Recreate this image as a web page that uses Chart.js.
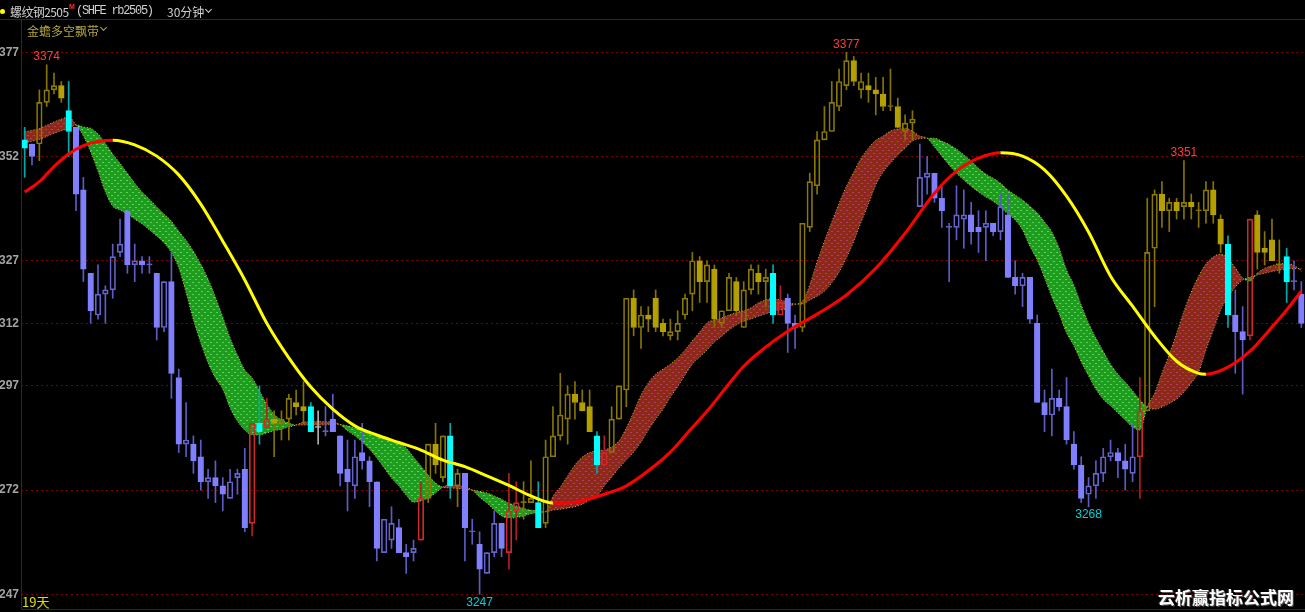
<!DOCTYPE html>
<html>
<head>
<meta charset="utf-8">
<script src="https://cdn.jsdelivr.net/npm/chart.js@4.4.1/dist/chart.umd.min.js"></script>
<style>
  html, body { margin: 0; padding: 0; background: #000; }
  #wrap { position: relative; width: 1305px; height: 612px; overflow: hidden; background: #000; }
  #wrap canvas { position: absolute; left: 0; top: 0; }
  .t { position: absolute; white-space: nowrap; line-height: 1; }
  .chev { position: absolute; width: 4px; height: 4px; border-right: 1px solid; border-bottom: 1px solid; transform: rotate(45deg); }
</style>
</head>
<body>
<div id="wrap">
  <canvas id="kline" width="1305" height="612"></canvas>

  <div class="t" style="left:0px;top:9px;width:5px;height:5px;border-radius:50%;background:#ffff00"></div>
  <div class="t" style="left:10px;top:3px;font:12px 'Noto Sans CJK SC',sans-serif;letter-spacing:-0.6px;color:#d0d0d0">螺纹钢2505</div>
  <div class="t" style="left:69px;top:3px;font:bold 7px 'Liberation Sans',sans-serif;color:#ff3030">M</div>
  <div class="t" style="left:76px;top:4px;font:12px 'Liberation Mono',monospace;letter-spacing:-1.3px;color:#d0d0d0">(SHFE rb2505)</div>
  <div class="t" style="left:167px;top:3px;font:12px 'Noto Sans CJK SC',sans-serif;color:#d0d0d0">30分钟</div>
  <div class="chev" style="left:206px;top:7px;color:#d0d0d0"></div>

  <div class="t" style="left:27px;top:22px;font:12px 'Noto Sans CJK SC',sans-serif;color:#b4a63c">金蟾多空飘带</div>
  <div class="chev" style="left:101px;top:25px;color:#b4a63c"></div>

  <div class="t" style="left:22px;top:592px;font:13px 'Noto Sans CJK SC',sans-serif;color:#e0e000">19天</div>
  <div class="t" style="left:1158px;top:584px;font:bold 17px 'Noto Sans CJK SC',sans-serif;color:#ffffff;text-shadow:1px 1px 0 #555,-1px 0 0 #333">云析赢指标公式网</div>
</div>

<script>
// 螺纹钢2505 30分钟 K线 + 金蟾多空飘带

var yTicks = [3247, 3272, 3297, 3312, 3327, 3352, 3377];

var open = [
  3356, 3355, 3355, 3365, 3368, 3369, 3363, 3359, 3344, 3324,
  3314, 3319, 3320, 3329, 3339, 3326, 3327, 3326, 3324, 3311,
  3322, 3299, 3283, 3283, 3280, 3274, 3275, 3273, 3270, 3275,
  3277, 3264, 3288, 3287, 3289, 3288, 3289, 3293, 3292, 3292,
  3287, 3286, 3289, 3285, 3277, 3273, 3281, 3279, 3274, 3257,
  3260, 3263, 3257, 3257, 3260, 3270, 3283, 3275, 3285, 3273,
  3276, 3262, 3259, 3252, 3257, 3264, 3257, 3267, 3269, 3269,
  3269, 3264, 3280, 3285, 3289, 3295, 3293, 3292, 3285, 3278,
  3281, 3289, 3296, 3318, 3311, 3314, 3318, 3312, 3309, 3310,
  3314, 3319, 3327, 3322, 3325, 3312, 3315, 3322, 3311, 3320,
  3324, 3322, 3324, 3314, 3318, 3312, 3311, 3335, 3345, 3356,
  3358, 3364, 3369, 3375, 3368, 3369, 3368, 3367, 3364, 3364,
  3358, 3360, 3340, 3347, 3348, 3342, 3335, 3335, 3337, 3338,
  3335, 3335, 3336, 3334, 3338, 3323, 3321, 3323, 3312, 3293,
  3290, 3294, 3292, 3283, 3278, 3271, 3273, 3276, 3280, 3281,
  3279, 3276, 3280, 3291, 3330, 3343, 3339, 3341, 3340, 3341,
  3339, 3339, 3344, 3337, 3331, 3314, 3310, 3309, 3338, 3330,
  3332, 3326, 3328, 3322, 3319
];
var high = [
  3359, 3355, 3368, 3374, 3372, 3370, 3370, 3359, 3347, 3324,
  3326, 3321, 3331, 3337, 3339, 3331, 3328, 3328, 3324, 3322,
  3329, 3301, 3293, 3285, 3284, 3277, 3279, 3275, 3277, 3277,
  3282, 3288, 3297, 3294, 3291, 3291, 3295, 3296, 3298, 3293,
  3291, 3292, 3295, 3285, 3284, 3284, 3288, 3280, 3274, 3265,
  3268, 3265, 3259, 3260, 3274, 3283, 3288, 3285, 3288, 3277,
  3276, 3265, 3262, 3257, 3267, 3264, 3276, 3274, 3274, 3279,
  3274, 3284, 3292, 3300, 3297, 3298, 3296, 3296, 3286, 3285,
  3292, 3297, 3318, 3320, 3316, 3316, 3320, 3313, 3313, 3315,
  3319, 3329, 3328, 3327, 3326, 3315, 3324, 3323, 3322, 3326,
  3326, 3325, 3326, 3321, 3319, 3314, 3336, 3348, 3358, 3364,
  3370, 3373, 3377, 3376, 3372, 3372, 3371, 3371, 3373, 3366,
  3362, 3363, 3355, 3352, 3348, 3345, 3336, 3345, 3344, 3341,
  3339, 3339, 3336, 3343, 3343, 3327, 3324, 3323, 3314, 3296,
  3301, 3296, 3299, 3286, 3280, 3275, 3279, 3282, 3284, 3282,
  3283, 3288, 3299, 3342, 3344, 3346, 3342, 3342, 3351, 3343,
  3341, 3346, 3346, 3338, 3333, 3320, 3316, 3337, 3339, 3334,
  3337, 3332, 3330, 3327, 3322
];
var low = [
  3347, 3350, 3351, 3364, 3367, 3365, 3352, 3339, 3322, 3312,
  3313, 3312, 3318, 3328, 3324, 3322, 3324, 3324, 3308, 3310,
  3294, 3281, 3280, 3276, 3272, 3270, 3269, 3267, 3270, 3271,
  3262, 3261, 3283, 3287, 3280, 3284, 3284, 3290, 3288, 3286,
  3283, 3285, 3286, 3273, 3267, 3270, 3277, 3268, 3255, 3257,
  3258, 3257, 3252, 3255, 3260, 3269, 3276, 3274, 3270, 3268,
  3255, 3259, 3247, 3252, 3256, 3256, 3253, 3260, 3265, 3269,
  3263, 3263, 3280, 3284, 3283, 3289, 3291, 3286, 3276, 3278,
  3281, 3289, 3292, 3309, 3306, 3310, 3310, 3309, 3308, 3308,
  3313, 3315, 3317, 3317, 3311, 3311, 3315, 3314, 3311, 3319,
  3319, 3316, 3312, 3314, 3305, 3306, 3310, 3334, 3343, 3356,
  3358, 3363, 3368, 3369, 3366, 3365, 3362, 3363, 3363, 3359,
  3356, 3356, 3340, 3343, 3341, 3335, 3322, 3332, 3330, 3331,
  3329, 3327, 3333, 3332, 3323, 3319, 3316, 3312, 3293, 3286,
  3285, 3291, 3283, 3277, 3269, 3268, 3270, 3274, 3279, 3275,
  3272, 3274, 3270, 3291, 3316, 3335, 3334, 3337, 3337, 3337,
  3335, 3336, 3336, 3329, 3311, 3300, 3295, 3308, 3325, 3326,
  3327, 3324, 3317, 3320, 3311
];
var close = [
  3354, 3352, 3365, 3368, 3369, 3366, 3358, 3343, 3325, 3315,
  3319, 3320, 3328, 3331, 3326, 3327, 3326, 3326, 3311, 3322,
  3300, 3283, 3284, 3279, 3274, 3275, 3273, 3271, 3274, 3276,
  3263, 3288, 3286, 3289, 3288, 3289, 3294, 3292, 3291, 3286,
  3287, 3286, 3286, 3276, 3274, 3280, 3279, 3274, 3258, 3265,
  3264, 3257, 3256, 3258, 3270, 3283, 3278, 3285, 3273, 3276,
  3263, 3262, 3253, 3257, 3264, 3258, 3267, 3269, 3269, 3270,
  3263, 3280, 3285, 3290, 3295, 3293, 3291, 3286, 3278, 3281,
  3289, 3297, 3318, 3311, 3314, 3313, 3311, 3310, 3310, 3312,
  3318, 3327, 3322, 3326, 3313, 3315, 3323, 3315, 3320, 3325,
  3322, 3323, 3314, 3317, 3312, 3311, 3336, 3346, 3356, 3358,
  3365, 3370, 3375, 3370, 3370, 3368, 3367, 3364, 3364, 3359,
  3360, 3361, 3347, 3348, 3342, 3339, 3335, 3338, 3338, 3334,
  3334, 3336, 3334, 3340, 3323, 3321, 3323, 3313, 3293, 3290,
  3294, 3292, 3284, 3278, 3270, 3273, 3276, 3280, 3281, 3279,
  3277, 3280, 3291, 3329, 3343, 3339, 3341, 3339, 3341, 3340,
  3339, 3344, 3338, 3331, 3314, 3310, 3308, 3337, 3329, 3329,
  3327, 3326, 3322, 3322, 3312
];

// Y 多头(黄)  P 空头(紫)  C 信号(青)  R 转折(红)  W 十字(白)
var candleTone = (
  'CPYYYYCPPP' + 'PPPPPPPPPP' + 'PPPPPPPPPP' + 'PRCRYYYYYC' + 'WPPPPPPPPP' +
  'PPPPRYYYCY' + 'PPPPPPRRYY' + 'CYYYYYYYCR' + 'YYYYYYYYYY' + 'YYYYYYYYYY' +
  'YYCRPPYYYY' + 'YYYYYYYYYY' + 'YYPPPPPPPP' + 'PPPPPPPPPP' + 'PPPPPPPPPP' +
  'PPRYYYYYYY' + 'YYYYCPPRYY' + 'YYCPP'
).split('');

var peakIdx = [3, 112, 158];
var troughIdx = [62, 145];

// 飘带: 快线 / 慢线
var fastLine = [
  3357.9, 3358.3, 3358.7, 3359.5, 3360.3, 3361.0, 3361.5, 3359.6, 3356.9, 3353.1,
  3348.5, 3343.5, 3340.1, 3339.2, 3338.2, 3337.0, 3335.8, 3334.4, 3332.9, 3331.3,
  3328.9, 3325.3, 3319.3, 3312.8, 3307.3, 3302.5, 3298.9, 3296.2, 3291.7, 3288.5,
  3286.4, 3285.2, 3285.2, 3285.7, 3286.2, 3286.6, 3287.1, 3287.6, 3288.3, 3288.4,
  3288.5, 3288.4, 3288.3, 3287.7, 3286.2, 3285.0, 3283.5, 3281.8, 3279.7, 3277.3,
  3274.9, 3273.0, 3270.8, 3269.1, 3269.4, 3270.1, 3271.3, 3272.7, 3273.2, 3273.1,
  3272.7, 3272.0, 3270.3, 3268.9, 3267.2, 3265.8, 3265.3, 3265.4, 3265.8, 3266.3,
  3266.6, 3266.8, 3270.5, 3272.7, 3275.4, 3278.0, 3279.9, 3281.0, 3281.4, 3281.6,
  3282.3, 3283.8, 3286.9, 3290.7, 3294.8, 3297.7, 3299.8, 3301.0, 3302.2, 3303.7,
  3305.6, 3307.8, 3309.9, 3312.1, 3312.8, 3313.3, 3314.0, 3314.6, 3315.0, 3315.7,
  3316.9, 3317.6, 3318.0, 3317.6, 3317.1, 3316.6, 3317.3, 3321.2, 3326.7, 3331.7,
  3336.3, 3340.8, 3344.9, 3348.3, 3351.6, 3354.0, 3355.9, 3356.9, 3358.1, 3358.6,
  3358.8, 3358.1, 3356.9, 3356.4, 3354.3, 3352.1, 3349.9, 3348.0, 3346.4, 3344.9,
  3343.5, 3342.3, 3341.3, 3339.9, 3338.2, 3336.8, 3334.4, 3330.5, 3327.2, 3322.9,
  3318.3, 3314.2, 3309.7, 3306.6, 3302.7, 3299.4, 3296.2, 3293.8, 3292.2, 3290.5,
  3288.8, 3287.1, 3286.4, 3292.0, 3295.2, 3300.0, 3304.6, 3309.6, 3314.9, 3319.5,
  3323.3, 3326.2, 3327.9, 3328.6, 3327.6, 3325.3, 3322.9, 3322.1, 3324.0, 3325.2,
  3325.8, 3326.3, 3326.3, 3325.9, 3324.5
];
var slowLine = [
  3355.2, 3355.7, 3356.1, 3356.8, 3357.6, 3358.2, 3358.7, 3359.6, 3359.1, 3358.8,
  3357.4, 3355.2, 3352.6, 3350.4, 3348.0, 3345.6, 3343.5, 3341.8, 3339.9, 3338.2,
  3336.5, 3334.1, 3331.9, 3329.3, 3326.2, 3322.6, 3318.3, 3313.5, 3308.5, 3304.4,
  3300.8, 3298.9, 3295.8, 3292.6, 3290.2, 3288.8, 3288.1, 3287.6, 3287.6, 3287.6,
  3287.6, 3287.7, 3287.8, 3287.7, 3287.4, 3286.9, 3286.4, 3286.0, 3285.4, 3284.7,
  3284.0, 3283.3, 3282.1, 3279.9, 3277.8, 3275.6, 3273.7, 3272.7, 3272.5, 3272.4,
  3272.2, 3272.0, 3271.7, 3271.3, 3270.6, 3269.8, 3268.9, 3268.2, 3267.6, 3267.2,
  3267.0, 3266.8, 3267.2, 3267.4, 3267.7, 3268.0, 3268.6, 3269.6, 3270.6, 3273.0,
  3275.1, 3277.3, 3279.2, 3281.1, 3283.5, 3286.4, 3289.0, 3291.4, 3294.3, 3296.8,
  3299.6, 3302.2, 3303.9, 3305.6, 3307.5, 3308.9, 3310.4, 3311.6, 3312.5, 3313.1,
  3313.7, 3314.3, 3314.8, 3315.2, 3315.6, 3316.6, 3316.6, 3317.6, 3318.5, 3319.7,
  3321.7, 3324.3, 3327.7, 3331.7, 3336.3, 3340.6, 3345.2, 3348.3, 3350.4, 3352.4,
  3354.0, 3355.7, 3356.3, 3356.4, 3356.4, 3355.7, 3354.9, 3353.8, 3352.4, 3350.9,
  3349.2, 3347.8, 3346.8, 3345.6, 3344.0, 3342.8, 3341.6, 3340.1, 3338.5, 3336.3,
  3333.9, 3330.0, 3324.8, 3321.2, 3316.4, 3312.1, 3308.5, 3305.3, 3302.2, 3299.8,
  3297.9, 3295.8, 3293.6, 3292.0, 3291.4, 3291.9, 3292.8, 3293.8, 3295.5, 3297.7,
  3300.3, 3305.6, 3310.4, 3315.2, 3318.3, 3320.7, 3322.4, 3323.1, 3323.6, 3324.0,
  3324.4, 3324.8, 3325.0, 3325.1, 3325.2
];

// 趋势线 (下行黄, 上行红)
var maX = [0, 2, 4, 6, 8, 10, 12, 15, 18, 21, 24, 27, 30, 33, 36, 39, 42, 45, 48, 51,
  54, 57, 60, 63, 66, 69, 72, 75, 79, 82, 86, 88, 91, 93, 96, 98, 101, 104, 108, 112,
  116, 120, 124, 127, 130, 133, 136, 139, 142, 145, 148, 151, 154, 157, 160, 161, 164, 167, 170, 172, 174];
var maLine = [3343.5, 3346.0, 3349.6, 3352.6, 3354.6, 3355.6, 3355.9, 3354.8, 3352.1, 3347.6,
  3340.6, 3331.7, 3322.4, 3312.0, 3303.7, 3296.7, 3291.4, 3287.4, 3285.2, 3283.4,
  3281.6, 3279.2, 3277.6, 3275.4, 3273.1, 3270.6, 3268.9, 3269.1, 3271.0, 3273.0,
  3278.0, 3281.1, 3287.0, 3290.9, 3297.5, 3301.7, 3306.3, 3310.1, 3314.2, 3318.8,
  3325.2, 3333.6, 3343.2, 3348.5, 3351.6, 3352.9, 3352.1, 3348.8, 3342.5, 3333.9,
  3323.3, 3316.1, 3308.9, 3302.9, 3300.0, 3299.8, 3301.5, 3305.3, 3311.1, 3315.2, 3319.7];

var tones = {
  Y: { up: '#8a7a00', down: '#b4a000', wick: '#857400' },
  P: { up: '#6464cc', down: '#8080ff', wick: '#5c5cc4' },
  C: { up: '#00ffff', down: '#00ffff', wick: '#00a8a8', solid: true },
  R: { up: '#d02828', down: '#d02828', wick: '#b02020' },
  W: { up: '#c8c8c8', down: '#c8c8c8', wick: '#b0b0b0' }
};

function bodyFill(i) {
  var t = tones[candleTone[i]];
  if (t.solid || close[i] < open[i]) return t.down;
  if (close[i] === open[i]) return t.up;
  return 'rgba(0,0,0,0)';
}
function bodyEdge(i) {
  var t = tones[candleTone[i]];
  return close[i] < open[i] ? t.down : t.up;
}
function wickColor(i) {
  return tones[candleTone[i]].wick;
}

var ctx = document.getElementById('kline').getContext('2d');

// dotted texture for the ribbon
function ribbonPattern(base, dot) {
  var c = document.createElement('canvas');
  c.width = 6; c.height = 6;
  var g = c.getContext('2d');
  g.fillStyle = base; g.fillRect(0, 0, 6, 6);
  g.fillStyle = dot;
  g.fillRect(0, 0, 2, 1); g.fillRect(3, 3, 2, 1);
  return ctx.createPattern(c, 'repeat');
}
var bearFill = ribbonPattern('#1f9c1f', '#50d850');
var bullFill = ribbonPattern('#8c2a1a', '#b83868');

function bandColor(c) {
  var a = c.p0DataIndex, b = c.p1DataIndex;
  var d = fastLine[a] + fastLine[b] - slowLine[a] - slowLine[b];
  return d >= 0 ? bullFill : bearFill;
}

var idx = close.map(function (c, i) { return i; });

var extremeLabels = {
  id: 'extremeLabels',
  afterDatasetsDraw: function (chart) {
    var xs = chart.scales.x, ys = chart.scales.y, g = chart.ctx;
    g.save();
    g.font = '12px "Liberation Sans", Arial, sans-serif';
    g.textAlign = 'center';
    g.textBaseline = 'bottom';
    g.fillStyle = '#ff3c3c';
    peakIdx.forEach(function (i) {
      g.fillText(String(high[i]), xs.getPixelForValue(i), ys.getPixelForValue(high[i]) - 2);
    });
    g.textBaseline = 'top';
    g.fillStyle = '#00d0d8';
    troughIdx.forEach(function (i) {
      g.fillText(String(low[i]), xs.getPixelForValue(i), ys.getPixelForValue(low[i]) + 2);
    });
    g.restore();
  }
};

var frameLines = {
  id: 'frameLines',
  afterDraw: function (chart) {
    var g = chart.ctx;
    g.save();
    g.strokeStyle = '#8c0000';
    g.lineWidth = 1;
    g.beginPath();
    g.moveTo(0, 19.5); g.lineTo(1305, 19.5);
    g.moveTo(21.5, 19.5); g.lineTo(21.5, 609.5);
    g.moveTo(21.5, 609.5); g.lineTo(1305, 609.5);
    g.stroke();
    g.restore();
  }
};

var klineChart = new Chart(ctx, {
  type: 'bar',
  data: {
    datasets: [
      {
        type: 'line',
        label: '趋势线',
        data: maX.map(function (x, k) { return { x: x, y: maLine[k] }; }),
        borderWidth: 3,
        borderColor: '#ff0000',
        segment: {
          borderColor: function (c) { return c.p1.parsed.y < c.p0.parsed.y ? '#ffff00' : '#ff0000'; }
        },
        pointRadius: 0,
        cubicInterpolationMode: 'monotone',
        fill: false,
        order: 0
      },
      {
        label: '实体',
        data: idx.map(function (i) { return { x: i, y: [open[i], close[i]] }; }),
        backgroundColor: idx.map(bodyFill),
        borderColor: idx.map(bodyEdge),
        borderWidth: 1,
        borderSkipped: false,
        grouped: false,
        barThickness: 6,
        maxBarThickness: 5.6,
        minBarLength: 1,
        order: 1
      },
      {
        label: '上影',
        data: idx.map(function (i) { return { x: i, y: [Math.max(open[i], close[i]), high[i]] }; }),
        backgroundColor: idx.map(wickColor),
        borderWidth: 0,
        grouped: false,
        barThickness: 1,
        maxBarThickness: 1,
        order: 2
      },
      {
        label: '下影',
        data: idx.map(function (i) { return { x: i, y: [low[i], Math.min(open[i], close[i])] }; }),
        backgroundColor: idx.map(wickColor),
        borderWidth: 0,
        grouped: false,
        barThickness: 1,
        maxBarThickness: 1,
        order: 3
      },
      {
        type: 'line',
        label: '慢线',
        data: idx.map(function (i) { return { x: i, y: slowLine[i] }; }),
        borderColor: '#c4bc30',
        borderWidth: 1,
        borderDash: [1, 2],
        pointRadius: 0,
        cubicInterpolationMode: 'monotone',
        fill: false,
        order: 5
      },
      {
        type: 'line',
        label: '快线',
        data: idx.map(function (i) { return { x: i, y: fastLine[i] }; }),
        borderColor: '#c4bc30',
        borderWidth: 1,
        borderDash: [1, 2],
        pointRadius: 0,
        cubicInterpolationMode: 'monotone',
        backgroundColor: bearFill,
        segment: { backgroundColor: bandColor },
        fill: 4,
        order: 6
      }
    ]
  },
  options: {
    responsive: false,
    animation: false,
    devicePixelRatio: 1,
    events: [],
    layout: { padding: { top: 20, bottom: 3, left: 0, right: 0 } },
    plugins: {
      legend: { display: false },
      tooltip: { enabled: false },
      filler: { propagate: false }
    },
    scales: {
      x: {
        type: 'linear',
        min: -0.5,
        max: 174.5,
        offset: false,
        display: false
      },
      y: {
        min: 3243.47,
        max: 3384.75,
        afterFit: function (scale) {
          scale.width = 21;
          scale.paddingTop = 0;
          scale.paddingBottom = 0;
        },
        afterBuildTicks: function (scale) {
          scale.ticks = yTicks.map(function (v) { return { value: v }; });
        },
        ticks: {
          color: '#a4a4a4',
          padding: 2,
          autoSkip: false,
          font: { family: '"Liberation Sans", Arial, sans-serif', size: 12, weight: 'bold' },
          callback: function (v) { return String(v); }
        },
        grid: { color: '#800000', lineWidth: 1, drawTicks: false },
        border: { display: false, dash: [2, 3] }
      }
    }
  },
  plugins: [extremeLabels, frameLines]
});
</script>
</body>
</html>
